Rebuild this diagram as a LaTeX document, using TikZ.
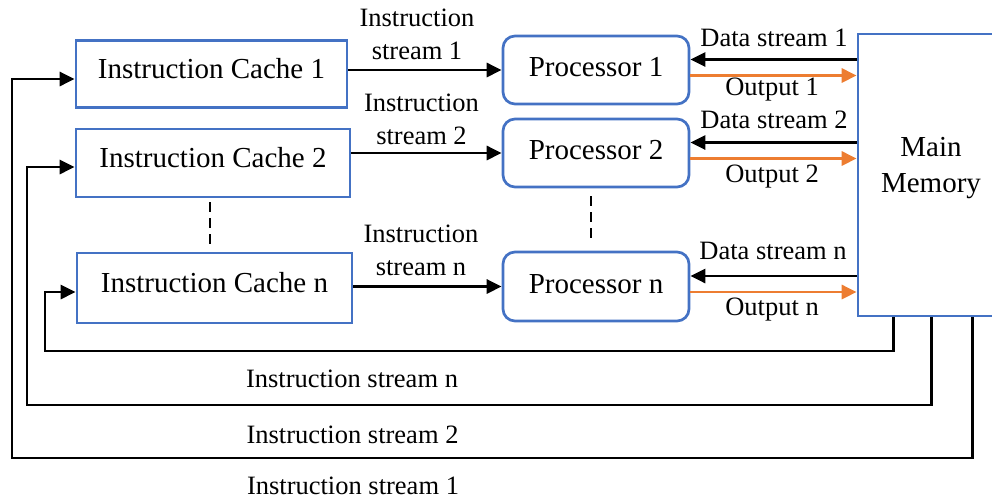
\documentclass[tikz,border=0pt]{standalone}
\usepackage{fontspec}
\setmainfont{Liberation Serif}
\usetikzlibrary{arrows.meta}

\definecolor{boxblue}{RGB}{68,114,196}
\definecolor{outorange}{RGB}{237,125,49}

\newcommand\diagbig{\fontsize{29}{36}\selectfont}
\newcommand\diagsmall{\fontsize{26.5}{33}\selectfont}

\tikzset{
  cachebox/.style={draw=boxblue, line width=2.7pt, minimum width=272pt,
    minimum height=67pt, inner sep=0pt, font=\diagbig,
    text height=20pt, text depth=12pt},
  procbox/.style={draw=boxblue, line width=2.7pt, rounded corners=12pt,
    minimum width=186pt, minimum height=68pt, inner sep=0pt, font=\diagbig,
    text height=20pt, text depth=7pt},
  membox/.style={draw=boxblue, line width=2.7pt, minimum width=146pt,
    minimum height=282pt, inner sep=0pt, font=\diagbig},
  flow/.style={draw=black, line width=2.9pt, -{Triangle[length=15pt,width=14pt]}},
  outflow/.style={draw=outorange, line width=2.9pt, -{Triangle[length=15pt,width=14pt]}},
  skip/.style={draw=black, line width=2.8pt, dash pattern=on 10pt off 6pt},
  lbl/.style={font=\diagsmall, inner sep=0pt, anchor=base},
  lbltwo/.style={font=\diagsmall, inner sep=0pt, align=center},
}

\begin{document}
\begin{tikzpicture}[x=1pt, y=-1pt]
  \useasboundingbox (0,0) rectangle (992,498);
  \clip (0,0) rectangle (992,498);

  % instruction caches
  \node[cachebox, minimum width=271pt] (c1) at (211.5,74) {Instruction Cache 1};
  \node[cachebox, minimum width=274pt, minimum height=68pt] (c2) at (213,163) {Instruction Cache 2};
  \node[cachebox, minimum width=275pt, minimum height=70pt] (cn) at (214.5,288) {Instruction Cache n};

  % processors
  \node[procbox] (p1) at (596,70) {Processor 1};
  \node[procbox] (p2) at (596,153) {Processor 2};
  \node[procbox, minimum height=69pt] (pn) at (596,286.5) {Processor n};

  % main memory (its right side runs past the edge)
  \node[membox] (mem) at (931,175)
    {\raisebox{-17pt}[0pt][0pt]{\begin{tabular}[b]{@{}c@{}}Main\\Memory\end{tabular}}};

  % cache -> processor
  \draw[flow] (c1.east |- p1.west) -- (p1.west);
  \draw[flow] (c2.east |- p2.west) -- (p2.west);
  \draw[flow] (cn.east |- pn.west) -- (pn.west);
  \node[lbltwo] (is1) at (417,34.75) {Instruction\\stream 1};
  \node[lbltwo] (is2) at (421.5,119.75) {Instruction\\stream 2};
  \node[lbltwo] (isn) at (421,250.75) {Instruction\\stream n};

  % data streams and outputs
  \foreach \p in {p1,p2,pn} {
    \draw[flow] ([yshift=10.5pt]\p.east -| mem.west) -- ([yshift=10.5pt]\p.east);
    \draw[outflow] ([yshift=-5.5pt]\p.east) -- ([yshift=-5.5pt]\p.east -| mem.west);
  }
  \node[lbl] (d1) at (774,46) {Data stream 1};
  \node[lbl] (o1) at (772,95) {Output 1};
  \node[lbl] (d2) at (774,128) {Data stream 2};
  \node[lbl] (o2) at (772,182) {Output 2};
  \node[lbl] (dn) at (773,259) {Data stream n};
  \node[lbl] (on) at (772,315) {Output n};

  % continuation marks
  \draw[skip] ([xshift=-3pt,yshift=-4pt]c2.south) -- ([xshift=-3pt,yshift=5pt]c2.south |- cn.north);
  \draw[skip] ([xshift=-5pt,yshift=-8pt]p2.south) -- ([xshift=-5pt,yshift=10pt]p2.south |- pn.north);

  % instruction streams back from main memory
  \coordinate (bn) at (45,351);
  \coordinate (b2) at (27,405);
  \coordinate (b1) at (12,458);
  \draw[flow] ([xshift=37pt]mem.south west) |- (bn) |- ([yshift=-4pt]cn.west);
  \draw[flow] ([xshift=75pt]mem.south west) |- (b2) |- ([yshift=-4pt]c2.west);
  \draw[flow] ([xshift=116pt]mem.south west) |- (b1) |- ([yshift=-5pt]c1.west);
  \node[lbl] (ln) at (352,387) {Instruction stream n};
  \node[lbl] (l2) at (352.5,443) {Instruction stream 2};
  \node[lbl] (l1) at (353,494) {Instruction stream 1};
\end{tikzpicture}
\end{document}
